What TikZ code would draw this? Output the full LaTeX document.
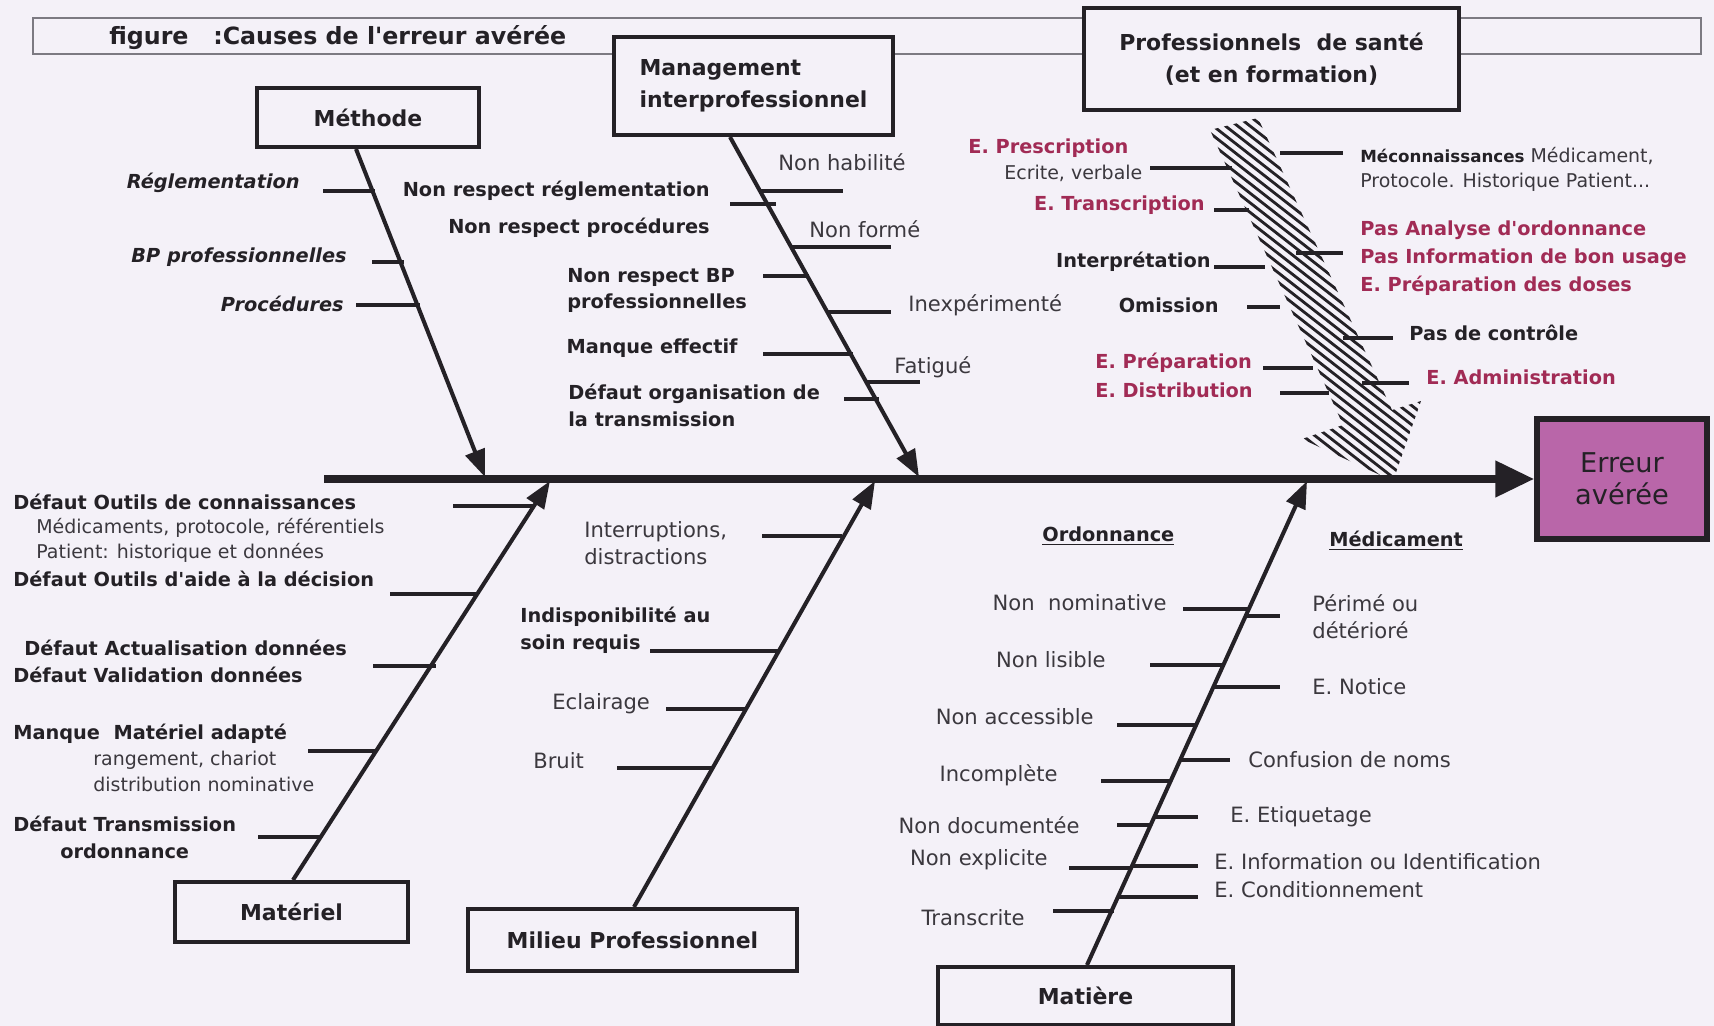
\documentclass[tikz,border=0pt]{standalone}
\usepackage{fontspec}
\setmainfont{DejaVu Sans}
\usetikzlibrary{arrows.meta}
\definecolor{paper}{HTML}{F4F1F8}
\definecolor{ink}{HTML}{242126}
\definecolor{slate}{HTML}{3B383E}
\definecolor{wine}{HTML}{A12B55}
\definecolor{orchid}{HTML}{B966A9}
\definecolor{rule}{HTML}{7C7A82}

\begin{document}
\begin{tikzpicture}[x=0.02cm,y=-0.02cm,text=ink,
    catbox/.style={draw=ink,line width=2.3pt,fill=paper,inner sep=0pt,
      font=\fontsize{12.5}{18}\selectfont\bfseries},
    bone/.style={draw=ink,line width=2.3pt,-{Triangle[length=15.5pt,width=11.5pt]}},
    twig/.style={draw=ink,line width=2.6pt},
    lblb/.style={inner sep=0pt,font=\fontsize{11}{15.3}\selectfont\bfseries},
    lbli/.style={inner sep=0pt,font=\fontsize{11}{15.3}\selectfont\bfseries\itshape},
    lblr/.style={inner sep=0pt,text=slate,font=\fontsize{12}{15.3}\selectfont},
    lbls/.style={inner sep=0pt,text=slate,font=\fontsize{10.8}{14.2}\selectfont},
    lblred/.style={lblb,text=wine}]
  \useasboundingbox (0,0) rectangle (1714,1026);
  \fill[paper] (0,0) rectangle (1714,1026);

  % bandeau du titre, en partie recouvert par les cadres
  \draw[rule,line width=0.8pt] (33,18) rectangle (1701,54);
  \node[lblb,anchor=west,font=\fontsize{13.5}{16}\selectfont\bfseries] (titre) at (109,38)
    {figure~~~:Causes de l\textquotesingle erreur avérée};

  % cadres des familles de causes
  \node[catbox,minimum width=4.44cm,minimum height=1.18cm] (methode) at (368,117.5) {Méthode};
  \node[catbox,minimum width=5.58cm,minimum height=1.96cm,align=left] (mgmt) at (753.5,86)
    {Management\\interprofessionnel};
  \node[catbox,minimum width=7.5cm,minimum height=2.04cm,align=center] (prof) at (1271.5,59)
    {Professionnels~~de santé\\(et en formation)};
  \node[catbox,minimum width=4.66cm,minimum height=1.2cm] (materiel) at (291.5,912) {Matériel};
  \node[catbox,minimum width=6.58cm,minimum height=1.24cm] (milieu) at (632.5,940) {Milieu Professionnel};
  \node[catbox,minimum width=5.9cm,minimum height=1.16cm] (matiere) at (1085.5,996) {Matière};
  \node[draw=ink,line width=3.4pt,fill=orchid,minimum width=3.4cm,minimum height=2.4cm,
        align=center,inner sep=0pt,font=\fontsize{15.5}{18}\selectfont] (erreur) at (1622,479)
    {Erreur\\avérée};

  % arête hachurée des professionnels
  \begin{scope}
    \clip (1210,130) -- (1258,118) -- (1392,410) -- (1421,401) -- (1393,481)
      -- (1302,439) -- (1343,425) -- cycle;
    \foreach \k in {0,...,32}
      \draw[ink,line width=1.6pt] ({860+12.3*\k},100) -- ++(700,546);
  \end{scope}

  % arête centrale et arêtes des familles
  \coordinate (queue) at (324,479);
  \coordinate (tipM) at (485,477);
  \coordinate (tipG) at (919,477);
  \coordinate (tipT) at (550,481);
  \coordinate (tipL) at (875,481);
  \coordinate (tipX) at (1307,481);
  \draw[ink,line width=4pt,-{Triangle[length=22pt,width=20pt]}] (queue) -- (erreur.west);
  \draw[bone] (methode.south) ++(-12,0) -- (tipM);
  \draw[bone] (mgmt.south) ++(-23.5,0) -- (tipG);
  \draw[bone] (materiel.north) ++(1.5,0) -- (tipT);
  \draw[bone] (milieu.north) ++(1.5,0) -- (tipL);
  \draw[bone] (matiere.north) ++(1.5,0) -- (tipX);

  % Méthode
  \node[lbli,anchor=east] (regl) at (300,183) {Réglementation};
  \node[lbli,anchor=east] (bpp) at (347,257) {BP professionnelles};
  \node[lbli,anchor=east] (proc) at (344,304) {Procédures};
  \foreach \xa/\xb/\y in {323/375/191, 372/404/262, 356/420/305}
    \draw[twig] (\xa,\y) -- (\xb,\y);

  % Management interprofessionnel
  \node[lblb,anchor=east] (nrr) at (710,191) {Non respect réglementation};
  \node[lblb,anchor=east] (nrp) at (710,228) {Non respect procédures};
  \node[lblb,anchor=west,align=left] (nrbp) at (567,290.5) {Non respect BP\\professionnelles};
  \node[lblb,anchor=east] (mqe) at (738,348) {Manque effectif};
  \node[lblb,anchor=west,align=left] (dot) at (568,405.5) {Défaut organisation de\\la transmission};
  \node[lblr,anchor=west] (nhab) at (778,162) {Non habilité};
  \node[lblr,anchor=west] (nfor) at (809,229) {Non formé};
  \node[lblr,anchor=west] (inex) at (908,305) {Inexpérimenté};
  \node[lblr,anchor=west] (fat) at (894,367) {Fatigué};
  \foreach \xa/\xb/\y in {730/776/204, 763/809/276, 763/853/354, 844/879/399,
                          761/843/191, 792/891/247, 828/891/312, 867/920/382}
    \draw[twig] (\xa,\y) -- (\xb,\y);

  % Professionnels de santé
  \node[lblred,anchor=west] (epre) at (968,148) {E. Prescription};
  \node[lbls,anchor=west] (ecv) at (1004,173) {Ecrite, verbale};
  \node[lblred,anchor=east] (etra) at (1205,205) {E. Transcription};
  \node[lblb,anchor=east] (intp) at (1211,262) {Interprétation};
  \node[lblb,anchor=east] (omi) at (1219,305) {Omission};
  \node[lblred,anchor=west] (eprep) at (1095,363) {E. Préparation};
  \node[lblred,anchor=west] (edis) at (1095,390) {E. Distribution};
  \node[lbls,anchor=west,align=left] (mec) at (1360,169.5)
    {{\fontsize{9.5}{14.2}\selectfont\bfseries\color{ink}Méconnaissances} Médicament,\\Protocole. Historique Patient...};
  \node[lblred,anchor=west,align=left,font=\fontsize{11}{15.9}\selectfont\bfseries] (pas) at (1360,258)
    {Pas Analyse d\textquotesingle ordonnance\\Pas Information de bon usage\\E. Préparation des doses};
  \node[lblb,anchor=west] (pdc) at (1409,333) {Pas de contrôle};
  \node[lblred,anchor=west] (eadm) at (1426,377) {E. Administration};
  \foreach \xa/\xb/\y in {1150/1232/168, 1214/1249/210, 1214/1265/267, 1247/1280/307,
                          1263/1313/368, 1280/1329/393, 1280/1343/153, 1296/1343/253,
                          1343/1393/338, 1362/1409/383}
    \draw[twig] (\xa,\y) -- (\xb,\y);

  % Matériel
  \node[lblb,anchor=west] (doc) at (13,502) {Défaut Outils de connaissances};
  \node[lbls,anchor=west] (doc1) at (36,528) {Médicaments, protocole, référentiels};
  \node[lbls,anchor=west] (doc2) at (36,553) {Patient: historique et données};
  \node[lblb,anchor=west] (doad) at (13,579) {Défaut Outils d\textquotesingle aide à la décision};
  \node[lblb,anchor=west] (dact) at (24,648) {Défaut Actualisation données};
  \node[lblb,anchor=west] (dval) at (13,675) {Défaut Validation données};
  \node[lblb,anchor=west] (mma) at (13,734) {Manque~~Matériel adapté};
  \node[lbls,anchor=west] (mma1) at (93,760) {rangement, chariot};
  \node[lbls,anchor=west] (mma2) at (93,784) {distribution nominative};
  \node[lblb,anchor=west,align=center] (dtr) at (13,837) {Défaut Transmission\\ordonnance};
  \foreach \xa/\xb/\y in {453/533/506, 390/476/594, 373/436/666, 308/377/751, 258/322/837}
    \draw[twig] (\xa,\y) -- (\xb,\y);

  % Milieu professionnel
  \node[lblr,anchor=west,align=left] (intr) at (584,543.5) {Interruptions,\\distractions};
  \node[lblb,anchor=west,align=left] (indi) at (520,630.5) {Indisponibilité au\\soin requis};
  \node[lblr,anchor=west] (ecl) at (552,704) {Eclairage};
  \node[lblr,anchor=west] (bru) at (533,761) {Bruit};
  \foreach \xa/\xb/\y in {762/842/536, 650/778/651, 666/746/709, 617/713/768}
    \draw[twig] (\xa,\y) -- (\xb,\y);

  % Matière : ordonnance et médicament
  \node[lblb,anchor=west] (ordo) at (1042,536) {\underline{Ordonnance}};
  \node[lblb,anchor=west] (medi) at (1329,541) {\underline{Médicament}};
  \node[lblr,anchor=east] (nnom) at (1167,603) {Non~~nominative};
  \node[lblr,anchor=east] (nlis) at (1106,660) {Non lisible};
  \node[lblr,anchor=east] (nacc) at (1094,717) {Non accessible};
  \node[lblr,anchor=east] (inco) at (1058,775) {Incomplète};
  \node[lblr,anchor=east] (ndoc) at (1080,825) {Non documentée};
  \node[lblr,anchor=east] (nexp) at (1048,860) {Non explicite};
  \node[lblr,anchor=east] (tran) at (1025,918) {Transcrite};
  \node[lblr,anchor=west,align=left] (peri) at (1312,616.5) {Périmé ou\\détérioré};
  \node[lblr,anchor=west] (enot) at (1312,687) {E. Notice};
  \node[lblr,anchor=west] (conf) at (1248,760) {Confusion de noms};
  \node[lblr,anchor=west] (eeti) at (1230,817) {E. Etiquetage};
  \node[lblr,anchor=west] (einf) at (1214,862) {E. Information ou Identification};
  \node[lblr,anchor=west] (econ) at (1214,890) {E. Conditionnement};
  \foreach \xa/\xb/\y in {1183/1249/609, 1150/1224/665, 1117/1197/725, 1101/1171/781,
                          1117/1151/825, 1069/1132/868, 1053/1114/911,
                          1245/1280/616, 1213/1280/687, 1180/1230/760, 1155/1198/817,
                          1132/1198/866, 1119/1198/897}
    \draw[twig] (\xa,\y) -- (\xb,\y);
\end{tikzpicture}
\end{document}
